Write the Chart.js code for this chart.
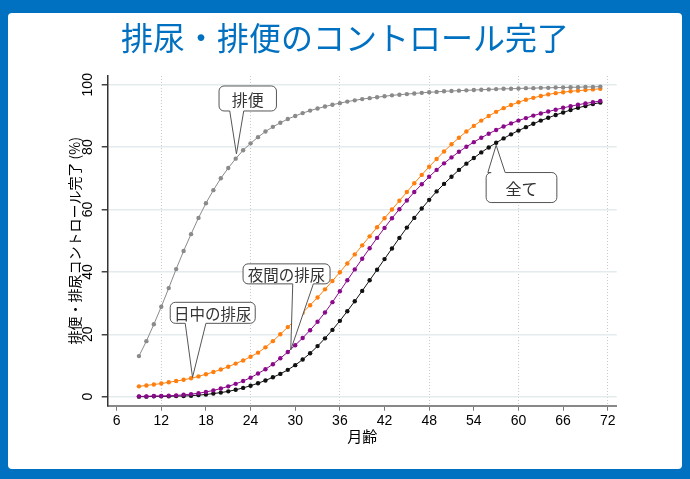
<!DOCTYPE html>
<html>
<head>
<meta charset="utf-8">
<script src="https://cdn.jsdelivr.net/npm/chart.js@4.4.0/dist/chart.umd.min.js"></script>
<style>
  html, body { margin: 0; padding: 0; }
  body { width: 690px; height: 479px; background: #0070c0; overflow: hidden; }
  .panel { position: absolute; left: 8px; top: 13px; width: 674px; height: 456px; background: #fff; border-radius: 4px; }
  canvas { display: block; }
</style>
</head>
<body>
<div class="panel"><canvas id="toiletChart" width="674" height="456"></canvas></div>
<script>
// months of age (x)
const months = [9, 10, 11, 12, 13, 14, 15, 16, 17, 18, 19, 20, 21, 22, 23, 24, 25, 26, 27, 28,
    29, 30, 31, 32, 33, 34, 35, 36, 37, 38, 39, 40, 41, 42, 43, 44, 45, 46, 47, 48,
    49, 50, 51, 52, 53, 54, 55, 56, 57, 58, 59, 60, 61, 62, 63, 64, 65, 66, 67, 68,
    69, 70, 71];

// % completed
const bowel = [13.0, 17.8, 23.2, 28.8, 34.8, 40.9, 46.7, 52.1, 57.3, 62.0, 66.2, 70.0, 73.3, 76.3, 79.0, 81.2, 83.2, 85.0, 86.5, 87.8,
    89.0, 90.0, 90.9, 91.7, 92.4, 93.0, 93.6, 94.1, 94.6, 95.0, 95.4, 95.7, 96.0, 96.3, 96.6, 96.8, 97.0, 97.2, 97.4, 97.6,
    97.7, 97.9, 98.0, 98.1, 98.2, 98.3, 98.4, 98.5, 98.6, 98.7, 98.7, 98.8, 98.9, 98.9, 99.0, 99.0, 99.1, 99.1, 99.2, 99.2,
    99.3, 99.3, 99.4];
const dayUrine = [3.3, 3.6, 3.9, 4.2, 4.6, 5.0, 5.4, 5.9, 6.5, 7.2, 7.9, 8.7, 9.6, 10.6, 11.6, 12.8, 14.1, 15.8, 17.8, 20.0,
    22.3, 24.6, 26.9, 29.3, 31.8, 34.4, 37.1, 39.9, 42.7, 45.6, 48.5, 51.4, 54.3, 57.2, 60.0, 62.8, 65.6, 68.4, 71.1, 73.7,
    76.2, 78.6, 80.9, 83.0, 85.0, 86.8, 88.5, 90.0, 91.3, 92.5, 93.5, 94.4, 95.2, 95.8, 96.4, 96.9, 97.3, 97.6, 97.9, 98.1,
    98.3, 98.5, 98.7];
const nightUrine = [0.1, 0.1, 0.2, 0.2, 0.3, 0.4, 0.6, 0.8, 1.1, 1.5, 2.0, 2.6, 3.3, 4.1, 5.0, 6.1, 7.4, 8.8, 10.4, 12.3,
    14.3, 16.5, 18.8, 21.3, 24.0, 27.0, 30.3, 33.8, 37.3, 40.8, 44.2, 47.6, 50.9, 54.1, 57.2, 60.1, 62.9, 65.6, 68.1, 70.5,
    72.7, 74.8, 76.7, 78.5, 80.1, 81.6, 83.0, 84.3, 85.5, 86.6, 87.6, 88.5, 89.3, 90.1, 90.8, 91.4, 92.0, 92.6, 93.1, 93.6,
    94.0, 94.4, 94.8];
const allDone = [0.0, 0.0, 0.1, 0.1, 0.1, 0.2, 0.2, 0.3, 0.5, 0.7, 1.0, 1.3, 1.7, 2.2, 2.8, 3.5, 4.3, 5.2, 6.2, 7.3,
    8.6, 10.1, 11.9, 13.9, 16.2, 18.7, 21.4, 24.3, 27.4, 30.6, 33.9, 37.3, 40.7, 44.1, 47.5, 50.9, 54.2, 57.3, 60.3, 63.1,
    65.8, 68.2, 70.5, 72.7, 74.7, 76.5, 78.3, 79.9, 81.4, 82.8, 84.1, 85.3, 86.4, 87.5, 88.5, 89.4, 90.3, 91.1, 91.9, 92.6,
    93.2, 93.8, 94.3];

const xTicks = [6, 12, 18, 24, 30, 36, 42, 48, 54, 60, 66, 72];
const yTicks = [0, 20, 40, 60, 80, 100];

const jpFont = '"Noto Sans CJK JP", sans-serif';
const numFont = '"Liberation Sans", "Noto Sans CJK JP", sans-serif';

// callout labels: tip in data units, box/base in pixels relative to the tip
const callouts = [
    { text: '排便', tip: [22.1, 77.8], box: [-17.4, -68, 57.4, 25], base: [10.7, 24.7], side: 'bottom', size: 16 },
    { text: '日中の排尿', tip: [16.2, 6.2], box: [-22.3, -75, 85, 21], base: [15, 35.7], side: 'bottom', size: 15.5 },
    { text: '夜間の排尿', tip: [29.4, 15.0], box: [-47.7, -86, 87, 20], base: [49.7, 70.3], side: 'bottom', size: 15.5 },
    { text: '全て', tip: [57.0, 80.6], box: [-10, 27.3, 70.7, 30], base: [1.7, 19], side: 'top', size: 16 }
];

function toPoints(values) {
    return months.map((m, i) => ({ x: m, y: values[i] }));
}

function makeSeries(label, values, color) {
    return {
        label: label,
        data: toPoints(values),
        borderColor: color,
        backgroundColor: color,
        borderWidth: 1,
        pointRadius: 2.2,
        pointBorderWidth: 0,
        pointBackgroundColor: color,
        tension: 0
    };
}

// draws the speech-bubble labels
const calloutPlugin = {
    id: 'callouts',
    afterDatasetsDraw(chart) {
        const ctx = chart.ctx;
        const xs = chart.scales.x;
        const ys = chart.scales.y;
        callouts.forEach(c => {
            const tx = xs.getPixelForValue(c.tip[0]);
            const ty = ys.getPixelForValue(c.tip[1]);
            const left = tx + c.box[0];
            const top = ty + c.box[1];
            const w = c.box[2];
            const h = c.box[3];
            const r = 5;
            const b1 = left + c.base[0];
            const b2 = left + c.base[1];
            ctx.save();
            ctx.beginPath();
            ctx.moveTo(left + r, top);
            if (c.side === 'top') {
                ctx.lineTo(b1, top);
                ctx.lineTo(tx, ty);
                ctx.lineTo(b2, top);
            }
            ctx.lineTo(left + w - r, top);
            ctx.arcTo(left + w, top, left + w, top + r, r);
            ctx.lineTo(left + w, top + h - r);
            ctx.arcTo(left + w, top + h, left + w - r, top + h, r);
            if (c.side === 'bottom') {
                ctx.lineTo(b2, top + h);
                ctx.lineTo(tx, ty);
                ctx.lineTo(b1, top + h);
            }
            ctx.lineTo(left + r, top + h);
            ctx.arcTo(left, top + h, left, top + h - r, r);
            ctx.lineTo(left, top + r);
            ctx.arcTo(left, top, left + r, top, r);
            ctx.closePath();
            ctx.fillStyle = '#fff';
            ctx.fill();
            ctx.strokeStyle = '#555';
            ctx.lineWidth = 1;
            ctx.stroke();
            ctx.fillStyle = '#333';
            ctx.font = c.size + 'px ' + jpFont;
            ctx.textAlign = 'center';
            ctx.textBaseline = 'middle';
            ctx.fillText(c.text, left + w / 2, top + h / 2 + 1);
            ctx.restore();
        });
    }
};

const ctx = document.getElementById('toiletChart').getContext('2d');
const toiletChart = new Chart(ctx, {
    type: 'line',
    data: {
        datasets: [
            makeSeries('排便', bowel, '#8a8a8a'),
            makeSeries('日中の排尿', dayUrine, '#ff7f0e'),
            makeSeries('夜間の排尿', nightUrine, '#8b0a8b'),
            makeSeries('全て', allDone, '#111111')
        ]
    },
    options: {
        responsive: false,
        animation: false,
        layout: { padding: 0 },
        plugins: {
            legend: { display: false },
            tooltip: { enabled: false },
            title: {
                display: true,
                text: '排尿・排便のコントロール完了',
                color: '#0070c0',
                font: { family: jpFont, size: 32, weight: 'normal' },
                padding: { top: 5.8, bottom: 18.8 }
            }
        },
        scales: {
            x: {
                type: 'linear',
                min: 4.8,
                max: 73.2,
                afterBuildTicks: s => { s.ticks = xTicks.map(v => ({ value: v })); },
                afterFit: s => { s.height = 63.3; },
                ticks: {
                    color: '#000',
                    font: { family: numFont, size: 14 },
                    padding: 2,
                    autoSkip: false,
                    maxRotation: 0
                },
                grid: {
                    color: c => (c.tick && c.tick.value % 12 === 0) ? '#c9c9c9' : 'rgba(0,0,0,0)',
                    lineWidth: 1,
                    tickColor: '#777',
                    tickLength: 5
                },
                border: { color: '#888', width: 2, dash: [1, 2] },
                title: {
                    display: true,
                    text: '月齢',
                    color: '#000',
                    font: { family: jpFont, size: 15 },
                    padding: { top: 0, bottom: 24 }
                }
            },
            y: {
                min: -2.9,
                max: 102.8,
                afterBuildTicks: s => { s.ticks = yTicks.map(v => ({ value: v })); },
                afterFit: s => { s.width = 99.7; },
                ticks: {
                    color: '#000',
                    font: { family: numFont, size: 14 },
                    minRotation: 90,
                    maxRotation: 90,
                    crossAlign: 'center',
                    padding: 2
                },
                grid: {
                    color: '#e3ebee',
                    lineWidth: 1.5,
                    tickColor: '#444',
                    tickLength: 6
                },
                border: { color: '#333', width: 1.5 },
                title: {
                    display: true,
                    text: '排便・排尿コントロール完了 (%)',
                    color: '#000',
                    font: { family: jpFont, size: 14 },
                    padding: { top: 58.6, bottom: 0 }
                }
            },
            // empty right-hand axis that only reserves the white margin
            yRight: {
                position: 'right',
                display: true,
                afterFit: s => { s.width = 65.3; },
                ticks: { display: false },
                grid: { display: false, drawOnChartArea: false },
                border: { display: false }
            }
        }
    },
    plugins: [calloutPlugin]
});
</script>
</body>
</html>
